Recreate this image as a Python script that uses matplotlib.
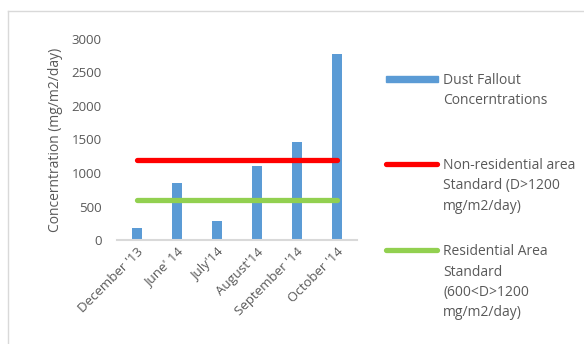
import matplotlib.pyplot as plt
from matplotlib.lines import Line2D
from matplotlib.patches import Rectangle

months = ["December '13", "June' 14", "July'14", "August'14", "September '14", "October '14"]
dust = [175, 850, 285, 1110, 1460, 2775]
non_res_std = [1200] * len(months)
res_std = [600] * len(months)

legend_labels = ["Dust Fallout\nConcerntrations",
                 "Non-residential area\nStandard (D>1200\nmg/m2/day)",
                 "Residential Area\nStandard\n(600<D>1200\nmg/m2/day)"]

plt.rcParams['font.family'] = ['Open Sans', 'DejaVu Sans']
txt = '#595959'

fig = plt.figure(figsize=(5.84, 3.44), dpi=100)
ax = fig.add_axes([0.2, 0.302, 0.411, 0.585])

x = range(len(months))
ax.bar(x, dust, width=0.25, color='#5b9bd5', zorder=2)
ax.plot(x, non_res_std, color='#ff0000', lw=3.8, solid_capstyle='round', zorder=3)
ax.plot(x, res_std, color='#92d050', lw=3.8, solid_capstyle='round', zorder=3)

ax.set_xlim(-0.5, len(months) - 0.5)
ax.set_ylim(0, 3000)
ax.set_yticks(range(0, 3001, 500))
ax.set_xticks(list(x))
ax.set_xticklabels(months, rotation=45, ha='right', rotation_mode='anchor')
ax.tick_params(length=0, labelsize=9.5, colors=txt)
ax.tick_params(axis='y', pad=11)
ax.tick_params(axis='x', pad=4)
for s in ['top', 'right', 'left']:
    ax.spines[s].set_visible(False)
ax.spines['bottom'].set_color('#d9d9d9')
ax.spines['bottom'].set_linewidth(1.5)
ax.set_ylabel('Concerntration (mg/m2/day)', fontsize=10, color=txt, labelpad=6)

# legend drawn by hand
W, H = 584, 344
handle_y = [79, 164, 250]
colors = ['#5b9bd5', '#ff0000', '#92d050']
for i, (lab, yy, c) in enumerate(zip(legend_labels, handle_y, colors)):
    fy = 1 - yy / H
    if i == 0:
        fig.add_artist(Rectangle((386 / W, fy - 2.5 / H), 52 / W, 5 / H,
                                 transform=fig.transFigure, color=c))
    else:
        fig.add_artist(Line2D([386 / W, 437 / W], [fy, fy], transform=fig.transFigure,
                              color=c, lw=3.8, solid_capstyle='round'))
    fig.text(443 / W, fy + 6 / H, lab, fontsize=10, color=txt, va='top', ha='left',
             linespacing=1.5)

# chart area border
fig.add_artist(Line2D([8 / W, 8 / W], [0, 1 - 10.5 / H], transform=fig.transFigure,
                      color='#d9d9d9', lw=1))
fig.add_artist(Line2D([8 / W, 1], [1 - 10.5 / H, 1 - 10.5 / H], transform=fig.transFigure,
                      color='#d9d9d9', lw=1))

fig.savefig('out.png', dpi=100)
